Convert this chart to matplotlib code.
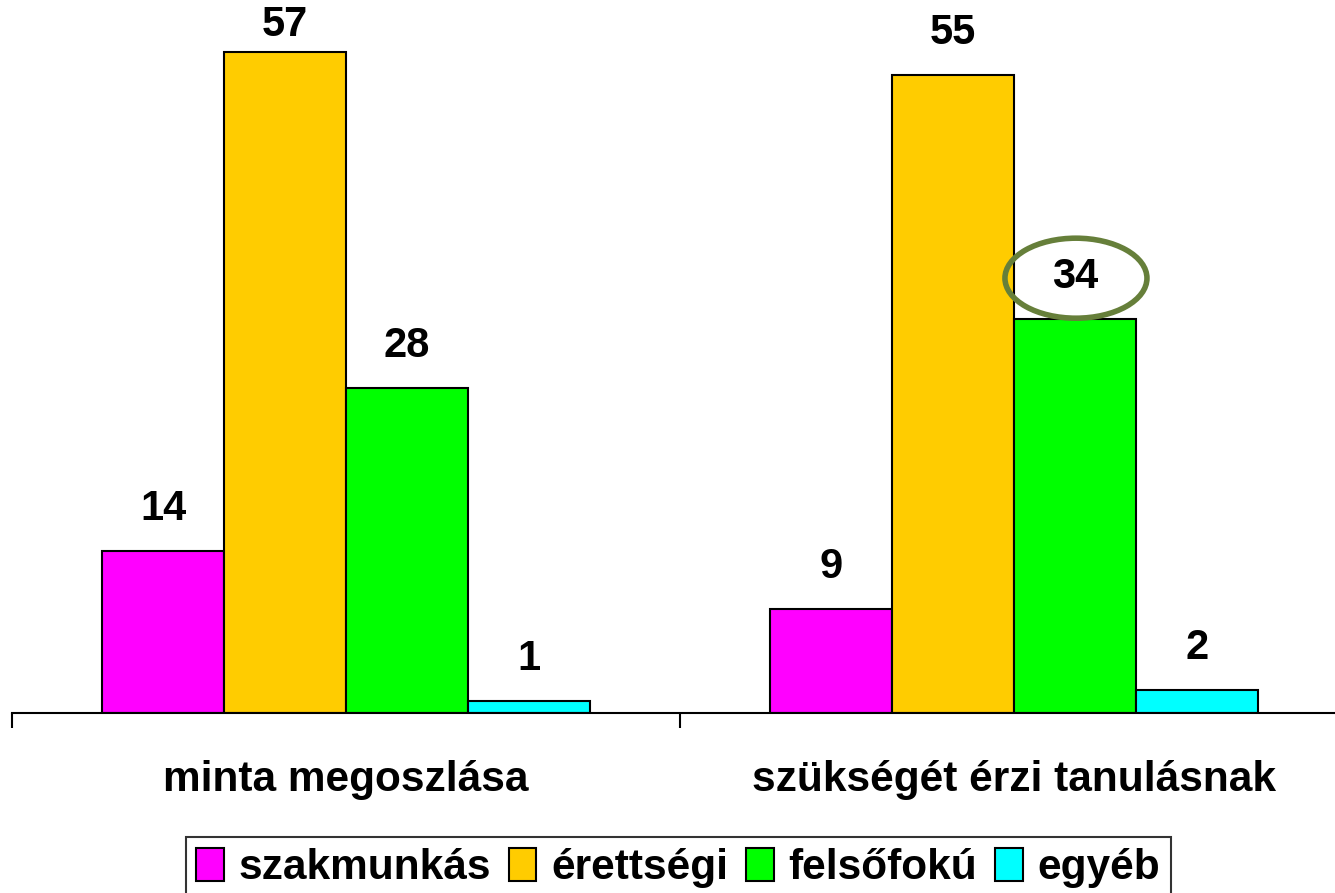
import numpy as np
import matplotlib
matplotlib.use("Agg")
import matplotlib.pyplot as plt
from matplotlib.patches import Ellipse

plt.rcParams['font.family'] = ['Liberation Sans', 'DejaVu Sans']
plt.rcParams['font.weight'] = 'bold'

categories = ["minta megoszlása", "szükségét érzi tanulásnak"]
series = ["szakmunkás", "érettségi", "felsőfokú", "egyéb"]
values = [
    [14, 9],
    [57, 55],
    [28, 34],
    [1, 2],
]
colors = ["#FF00FF", "#FFCC00", "#00FF00", "#00FFFF"]

fig = plt.figure(figsize=(13.35, 8.93), dpi=100)
ax = fig.add_axes([0.009, 0.2016, 1.0007, 0.779])

x = np.arange(len(categories))
w = 0.1826
for i, (name, vals) in enumerate(zip(series, values)):
    pos = x + (i - 1.5) * w
    bars = ax.bar(pos, vals, w, color=colors[i], edgecolor="black",
                  linewidth=1.5, label=name, zorder=2)
    for b, v in zip(bars, vals):
        # the top label is squeezed down to stay on the page
        ly = min(v + 1.9, 57.6)
        ax.text(b.get_x() + b.get_width() / 2, ly, str(v),
                ha="center", va="bottom", fontsize=30, fontweight="bold")

# highlight ring around 34
hx = x[1] + 0.5 * w + 0.0015
hy = values[2][1] + 3.5
ax.add_patch(Ellipse((hx, hy), 0.2126, 6.9, fill=False,
                     edgecolor="#667F3A", linewidth=4, zorder=3))

ax.set_xlim(-0.5, 1.5)
ax.set_ylim(0, 60)
for s in ["top", "right", "left"]:
    ax.spines[s].set_visible(False)
ax.spines["bottom"].set_linewidth(1.5)
ax.set_yticks([])
ax.set_xticks(x)
ax.set_xticklabels(categories, fontsize=30.5, fontweight="bold")
ax.tick_params(axis="x", which="major", length=0, pad=34)
ax.set_xticks([-0.5, 0.5, 1.5], minor=True)
ax.tick_params(axis="x", which="minor", length=11, width=1.5, direction="out")

leg = fig.legend(loc="lower center", bbox_to_anchor=(0.508, -0.03), ncol=4,
                 fontsize=30.5, frameon=True, fancybox=False, edgecolor="black",
                 handlelength=0.65, handleheight=0.8, handletextpad=0.35,
                 columnspacing=0.42, borderpad=0.25)
leg.get_frame().set_linewidth(1.5)

fig.savefig("out.png", dpi=100)
